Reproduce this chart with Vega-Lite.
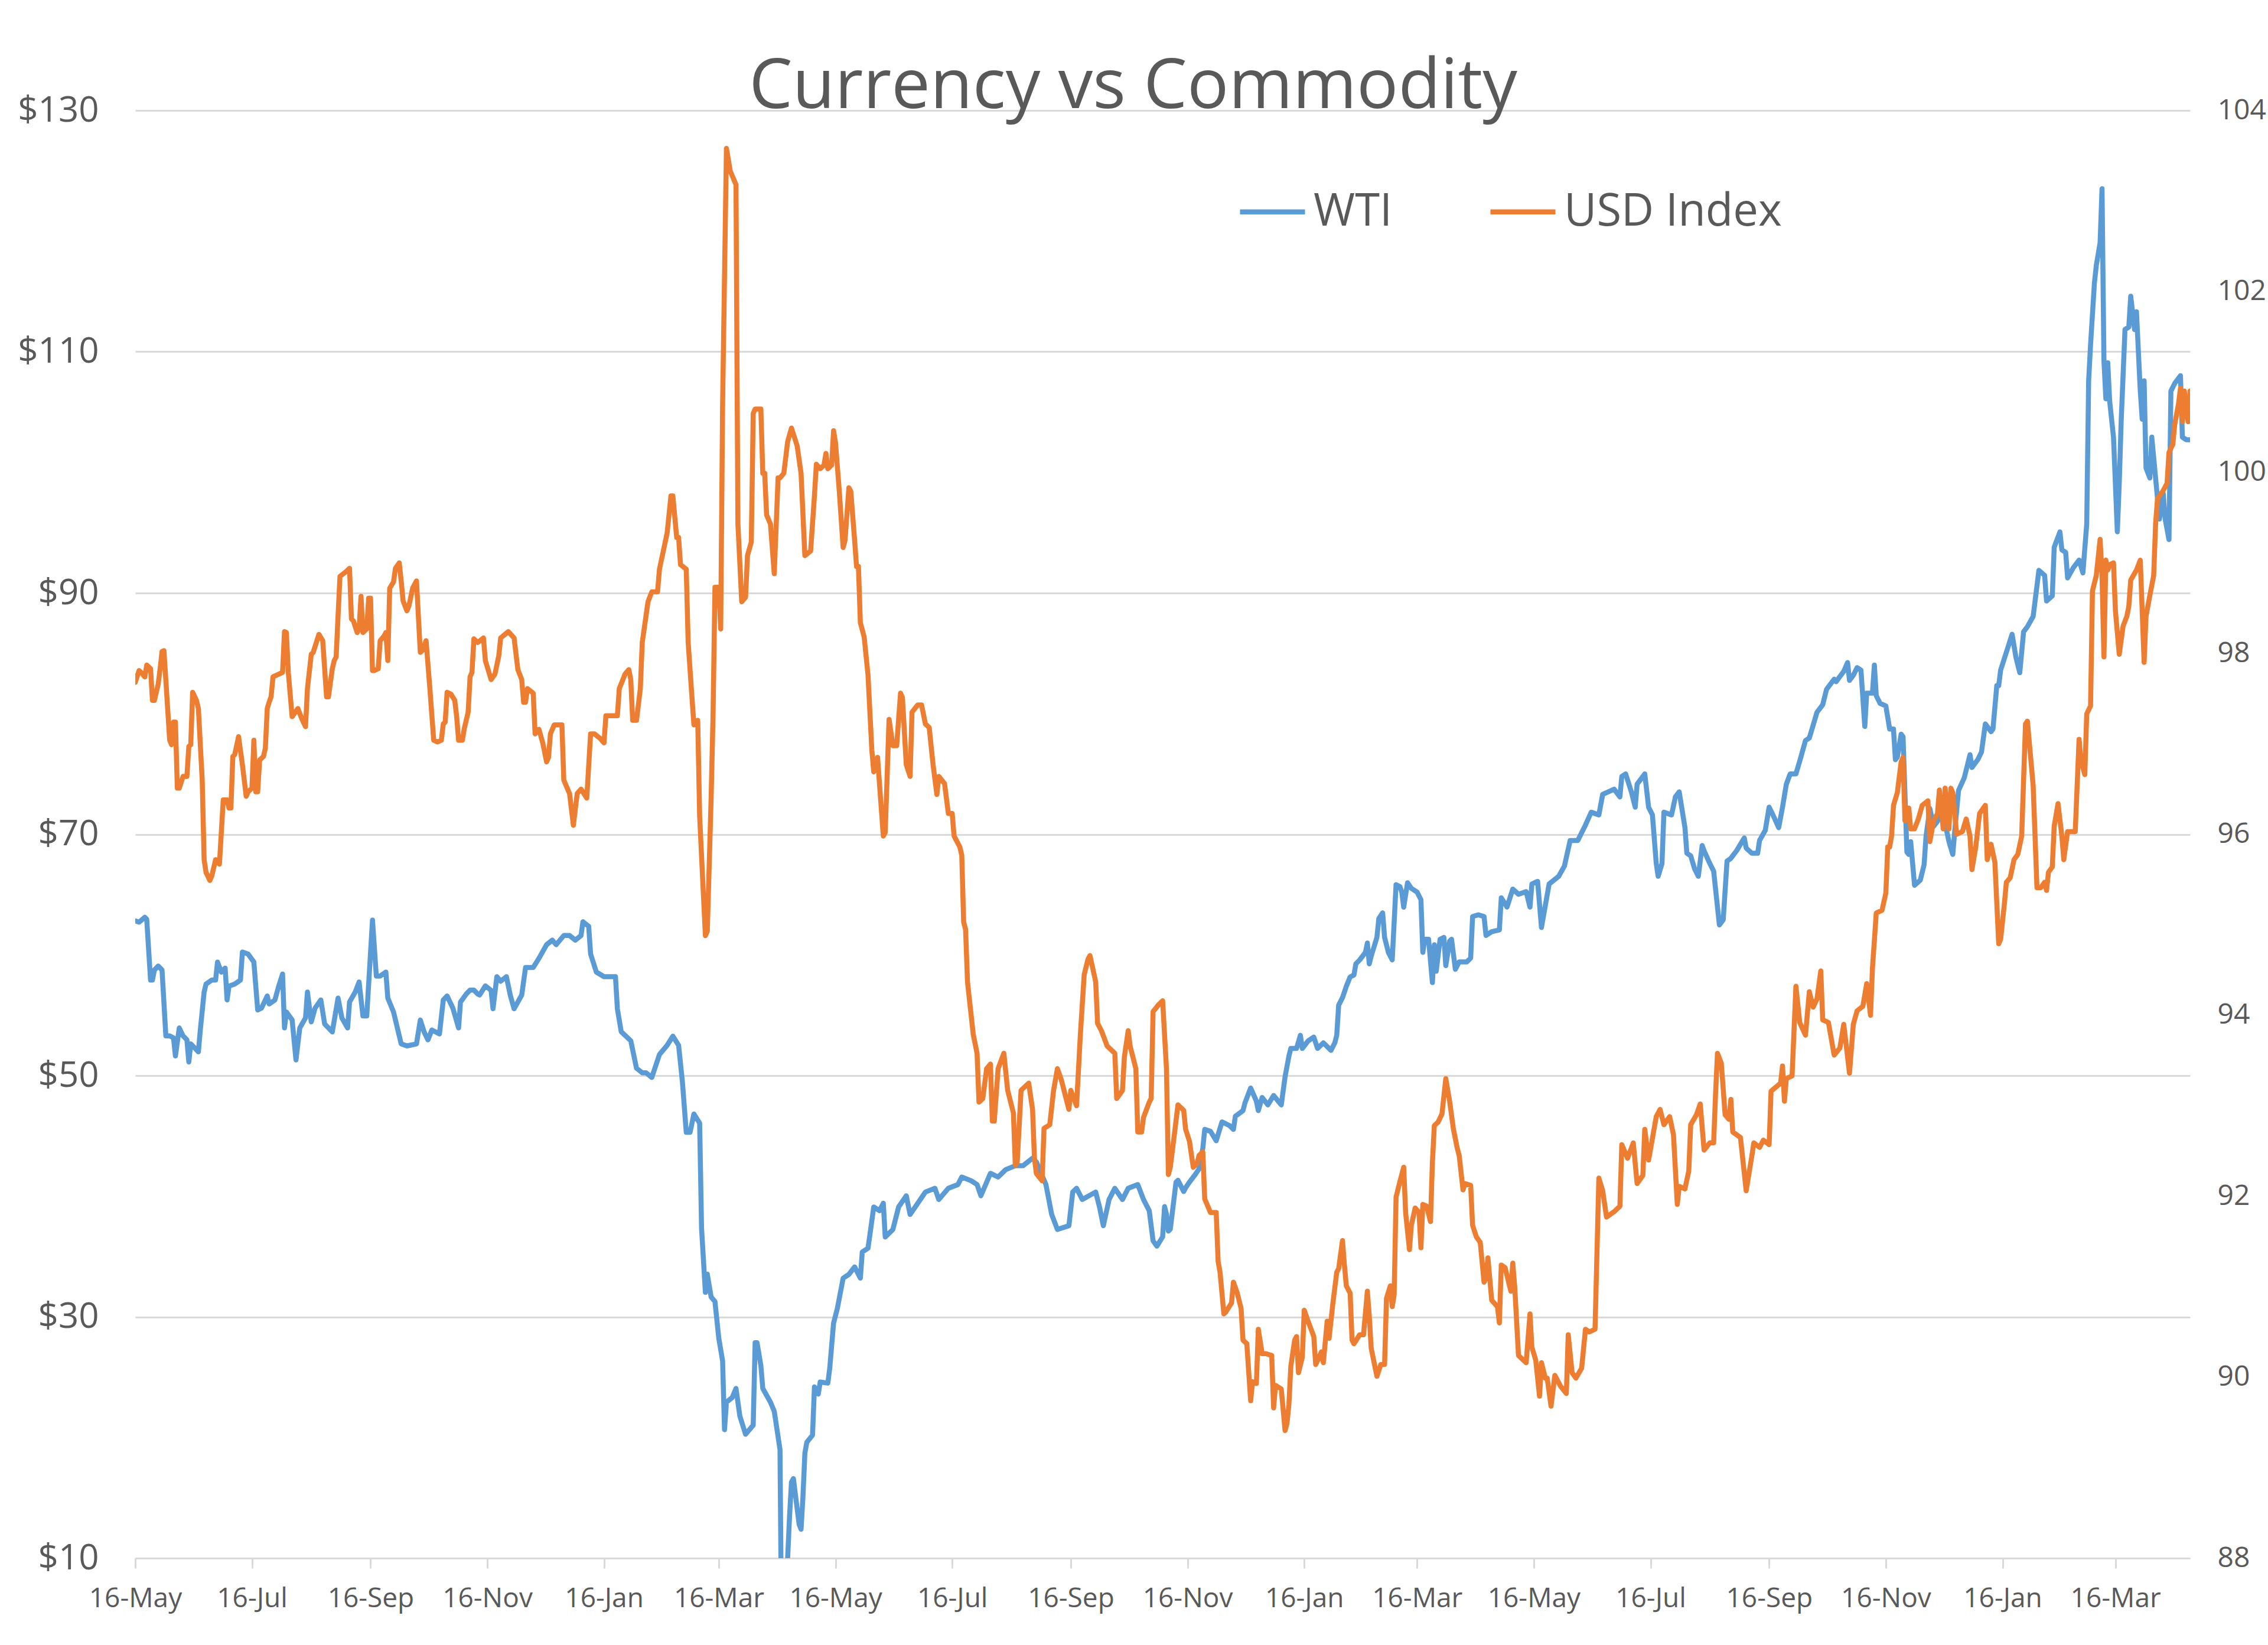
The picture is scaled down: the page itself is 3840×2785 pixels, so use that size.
{
"$schema":"https://vega.github.io/schema/vega-lite/v6.json",
"width":3479,"height":2451,
"autosize":{"type":"none"},
"padding":{"left":229,"top":187,"right":132,"bottom":147},
"background":"white",
"title":{"text":"Currency vs Commodity","font":"Open Sans","fontSize":117,"fontWeight":"normal","color":"#595959","anchor":"middle","frame":"group","baseline":"alphabetic","offset":-20,"dx":-50,"dy":123},
"datasets":{
"wti":[
{"d":"2019-05-16","v":62.82},{"d":"2019-05-18","v":62.72},{"d":"2019-05-21","v":63.12},{"d":"2019-05-22","v":62.95},{"d":"2019-05-24","v":57.92},{"d":"2019-05-25","v":57.92},{"d":"2019-05-26","v":58.75},{"d":"2019-05-28","v":59.08},{"d":"2019-05-30","v":58.75},{"d":"2019-06-01","v":53.29},{"d":"2019-06-03","v":53.29},{"d":"2019-06-05","v":53.12},{"d":"2019-06-06","v":51.63},{"d":"2019-06-08","v":53.95},{"d":"2019-06-10","v":53.29},{"d":"2019-06-12","v":52.96},{"d":"2019-06-13","v":51.13},{"d":"2019-06-14","v":52.63},{"d":"2019-06-16","v":52.3},{"d":"2019-06-18","v":51.97},{"d":"2019-06-19","v":53.78},{"d":"2019-06-21","v":56.93},{"d":"2019-06-22","v":57.59},{"d":"2019-06-25","v":57.92},{"d":"2019-06-27","v":57.92},{"d":"2019-06-28","v":59.41},{"d":"2019-06-30","v":58.58},{"d":"2019-07-02","v":58.91},{"d":"2019-07-03","v":56.27},{"d":"2019-07-04","v":57.42},{"d":"2019-07-07","v":57.59},{"d":"2019-07-10","v":57.92},{"d":"2019-07-11","v":60.24},{"d":"2019-07-14","v":60.07},{"d":"2019-07-17","v":59.41},{"d":"2019-07-19","v":55.44},{"d":"2019-07-21","v":55.6},{"d":"2019-07-24","v":56.6},{"d":"2019-07-25","v":55.94},{"d":"2019-07-28","v":56.27},{"d":"2019-07-30","v":57.42},{"d":"2019-08-01","v":58.42},{"d":"2019-08-02","v":53.95},{"d":"2019-08-03","v":55.27},{"d":"2019-08-06","v":54.61},{"d":"2019-08-08","v":51.3},{"d":"2019-08-10","v":53.95},{"d":"2019-08-13","v":54.78},{"d":"2019-08-14","v":56.93},{"d":"2019-08-16","v":54.45},{"d":"2019-08-18","v":55.6},{"d":"2019-08-21","v":56.27},{"d":"2019-08-23","v":54.28},{"d":"2019-08-27","v":53.62},{"d":"2019-08-30","v":56.43},{"d":"2019-09-01","v":54.78},{"d":"2019-09-04","v":53.95},{"d":"2019-09-05","v":56.1},{"d":"2019-09-08","v":56.93},{"d":"2019-09-10","v":57.76},{"d":"2019-09-12","v":54.94},{"d":"2019-09-14","v":54.94},{"d":"2019-09-17","v":62.89},{"d":"2019-09-19","v":58.25},{"d":"2019-09-21","v":58.25},{"d":"2019-09-24","v":58.58},{"d":"2019-09-25","v":56.43},{"d":"2019-09-28","v":55.27},{"d":"2019-10-02","v":52.63},{"d":"2019-10-05","v":52.46},{"d":"2019-10-10","v":52.63},{"d":"2019-10-12","v":54.61},{"d":"2019-10-14","v":53.62},{"d":"2019-10-16","v":52.96},{"d":"2019-10-18","v":53.78},{"d":"2019-10-22","v":53.45},{"d":"2019-10-24","v":56.27},{"d":"2019-10-26","v":56.6},{"d":"2019-10-29","v":55.6},{"d":"2019-11-01","v":53.95},{"d":"2019-11-02","v":56.1},{"d":"2019-11-05","v":56.76},{"d":"2019-11-07","v":57.09},{"d":"2019-11-09","v":57.09},{"d":"2019-11-11","v":56.76},
{"d":"2019-11-12","v":56.68},{"d":"2019-11-15","v":57.44},{"d":"2019-11-18","v":57.06},{"d":"2019-11-19","v":55.54},{"d":"2019-11-21","v":58.2},{"d":"2019-11-23","v":57.82},{"d":"2019-11-26","v":58.2},{"d":"2019-11-28","v":56.68},{"d":"2019-11-30","v":55.54},{"d":"2019-12-04","v":56.68},{"d":"2019-12-06","v":58.96},{"d":"2019-12-10","v":58.96},{"d":"2019-12-13","v":59.72},{"d":"2019-12-17","v":60.85},{"d":"2019-12-20","v":61.23},{"d":"2019-12-22","v":60.85},{"d":"2019-12-26","v":61.61},{"d":"2019-12-29","v":61.61},{"d":"2020-01-01","v":61.23},{"d":"2020-01-04","v":61.61},{"d":"2020-01-05","v":62.75},{"d":"2020-01-08","v":62.37},{"d":"2020-01-09","v":60.09},{"d":"2020-01-12","v":58.58},{"d":"2020-01-16","v":58.2},{"d":"2020-01-22","v":58.2},{"d":"2020-01-23","v":55.54},{"d":"2020-01-25","v":53.64},{"d":"2020-01-30","v":52.89},{"d":"2020-02-02","v":50.61},{"d":"2020-02-05","v":50.23},{"d":"2020-02-07","v":50.23},{"d":"2020-02-10","v":49.85},{"d":"2020-02-14","v":51.75},{"d":"2020-02-18","v":52.51},{"d":"2020-02-21","v":53.27},{"d":"2020-02-24","v":52.51},{"d":"2020-02-26","v":49.47},{"d":"2020-02-28","v":45.3},{"d":"2020-03-01","v":45.3},{"d":"2020-03-03","v":46.82},{"d":"2020-03-06","v":46.06},{"d":"2020-03-07","v":37.34},{"d":"2020-03-09","v":32.03},{"d":"2020-03-10","v":33.54},{"d":"2020-03-12","v":31.65},{"d":"2020-03-14","v":31.27},{"d":"2020-03-16","v":28.24},{"d":"2020-03-18","v":26.34},{"d":"2020-03-19","v":20.65},{"d":"2020-03-20","v":22.93},{"d":"2020-03-23","v":23.31},{"d":"2020-03-25","v":24.07},{"d":"2020-03-27","v":21.79},{"d":"2020-03-30","v":20.27},{"d":"2020-04-03","v":21.03},{"d":"2020-04-04","v":27.86},{"d":"2020-04-05","v":27.86},{"d":"2020-04-07","v":25.96},{"d":"2020-04-08","v":24.07},{"d":"2020-04-12","v":22.93},{"d":"2020-04-14","v":22.17},{"d":"2020-04-17","v":19.0},{"d":"2020-04-20","v":-37.6},{"d":"2020-04-21","v":10.0},{"d":"2020-04-22","v":13.5},{"d":"2020-04-23","v":16.3},{"d":"2020-04-24","v":16.6},{"d":"2020-04-27","v":12.8},{"d":"2020-04-28","v":12.4},{"d":"2020-04-29","v":15.1},{"d":"2020-04-30","v":18.7},{"d":"2020-05-01","v":19.6},{"d":"2020-05-04","v":20.2},{"d":"2020-05-05","v":24.2},{"d":"2020-05-06","v":23.8},{"d":"2020-05-07","v":23.6},{"d":"2020-05-08","v":24.6},
{"d":"2020-05-12","v":24.51},{"d":"2020-05-13","v":25.75},{"d":"2020-05-15","v":29.48},{"d":"2020-05-17","v":30.72},{"d":"2020-05-20","v":33.21},{"d":"2020-05-23","v":33.52},{"d":"2020-05-26","v":34.14},{"d":"2020-05-29","v":33.21},{"d":"2020-05-30","v":35.38},{"d":"2020-06-02","v":35.69},{"d":"2020-06-05","v":39.11},{"d":"2020-06-08","v":38.8},{"d":"2020-06-10","v":39.42},{"d":"2020-06-11","v":36.62},{"d":"2020-06-15","v":37.25},{"d":"2020-06-18","v":39.11},{"d":"2020-06-22","v":40.04},{"d":"2020-06-24","v":38.49},{"d":"2020-06-28","v":39.42},{"d":"2020-07-02","v":40.35},{"d":"2020-07-07","v":40.66},{"d":"2020-07-09","v":39.73},{"d":"2020-07-14","v":40.66},{"d":"2020-07-19","v":40.97},{"d":"2020-07-21","v":41.59},{"d":"2020-07-26","v":41.28},{"d":"2020-07-29","v":40.97},{"d":"2020-07-31","v":40.04},{"d":"2020-08-05","v":41.9},{"d":"2020-08-09","v":41.59},{"d":"2020-08-13","v":42.21},{"d":"2020-08-18","v":42.53},{"d":"2020-08-22","v":42.53},{"d":"2020-08-27","v":43.15},{"d":"2020-08-29","v":42.84},{"d":"2020-09-03","v":40.97},{"d":"2020-09-06","v":38.49},{"d":"2020-09-09","v":37.25},{"d":"2020-09-15","v":37.56},{"d":"2020-09-17","v":40.35},{"d":"2020-09-19","v":40.66},{"d":"2020-09-22","v":39.73},{"d":"2020-09-29","v":40.35},{"d":"2020-10-01","v":39.11},{"d":"2020-10-03","v":37.56},{"d":"2020-10-06","v":39.73},{"d":"2020-10-09","v":40.66},{"d":"2020-10-13","v":39.73},{"d":"2020-10-16","v":40.66},{"d":"2020-10-21","v":40.97},{"d":"2020-10-24","v":39.73},{"d":"2020-10-27","v":38.8},{"d":"2020-10-29","v":36.31},
{"d":"2020-10-31","v":35.86},{"d":"2020-11-03","v":36.64},{"d":"2020-11-04","v":39.14},{"d":"2020-11-05","v":38.51},{"d":"2020-11-06","v":37.11},{"d":"2020-11-07","v":37.27},{"d":"2020-11-10","v":41.17},{"d":"2020-11-11","v":41.32},{"d":"2020-11-14","v":40.39},{"d":"2020-11-15","v":40.7},{"d":"2020-11-17","v":41.17},{"d":"2020-11-20","v":41.79},{"d":"2020-11-22","v":42.26},{"d":"2020-11-24","v":43.98},{"d":"2020-11-25","v":45.54},{"d":"2020-11-28","v":45.38},{"d":"2020-12-01","v":44.6},{"d":"2020-12-04","v":46.16},{"d":"2020-12-08","v":45.85},{"d":"2020-12-10","v":45.54},{"d":"2020-12-11","v":46.63},{"d":"2020-12-15","v":47.1},{"d":"2020-12-16","v":47.72},{"d":"2020-12-19","v":48.97},{"d":"2020-12-22","v":47.88},{"d":"2020-12-23","v":47.1},{"d":"2020-12-25","v":48.19},{"d":"2020-12-28","v":47.57},{"d":"2020-12-31","v":48.35},{"d":"2021-01-04","v":47.57},{"d":"2021-01-06","v":49.91},{"d":"2021-01-08","v":51.62},{"d":"2021-01-09","v":52.25},{"d":"2021-01-12","v":52.25},{"d":"2021-01-14","v":53.34},{"d":"2021-01-15","v":52.25},{"d":"2021-01-18","v":52.87},{"d":"2021-01-21","v":53.19},{"d":"2021-01-23","v":52.25},{"d":"2021-01-26","v":52.72},{"d":"2021-01-30","v":52.09},{"d":"2021-02-01","v":52.72},{"d":"2021-02-02","v":53.34},{"d":"2021-02-03","v":55.84},{"d":"2021-02-05","v":56.46},{"d":"2021-02-07","v":57.4},{"d":"2021-02-09","v":58.18},{"d":"2021-02-11","v":58.34},{"d":"2021-02-12","v":59.27},{"d":"2021-02-14","v":59.59},{"d":"2021-02-17","v":60.21},{"d":"2021-02-18","v":60.99},{"d":"2021-02-19","v":59.27},{"d":"2021-02-20","v":59.9},{"d":"2021-02-23","v":61.46},{"d":"2021-02-24","v":63.02},{"d":"2021-02-26","v":63.49},{"d":"2021-02-27","v":61.46},{"d":"2021-03-01","v":60.21},{"d":"2021-03-03","v":59.59},{"d":"2021-03-05","v":65.83},{"d":"2021-03-07","v":65.67},{"d":"2021-03-08","v":65.21},{"d":"2021-03-09","v":63.96},{"d":"2021-03-11","v":65.99},{"d":"2021-03-13","v":65.52},{"d":"2021-03-16","v":65.21},{"d":"2021-03-18","v":64.58},{"d":"2021-03-19","v":60.21},{"d":"2021-03-20","v":61.3},{"d":"2021-03-22","v":61.3},{"d":"2021-03-24","v":57.71},{"d":"2021-03-25","v":60.84},{"d":"2021-03-26","v":58.65},{"d":"2021-03-28","v":61.3},{"d":"2021-03-30","v":61.46},{"d":"2021-03-31","v":59.12},{"d":"2021-04-02","v":61.15},{"d":"2021-04-03","v":61.3},{"d":"2021-04-05","v":58.81},{"d":"2021-04-07","v":59.43},{"d":"2021-04-11","v":59.43},{"d":"2021-04-13","v":59.74},{"d":"2021-04-14","v":63.18},{"d":"2021-04-17","v":63.33},{"d":"2021-04-20","v":63.18},{"d":"2021-04-21","v":61.62},{"d":"2021-04-24","v":61.93},{"d":"2021-04-28","v":62.08},{"d":"2021-04-29","v":64.74},
{"d":"2021-05-02","v":63.97},{"d":"2021-05-05","v":65.46},{"d":"2021-05-08","v":65.03},{"d":"2021-05-12","v":65.25},{"d":"2021-05-14","v":63.97},{"d":"2021-05-15","v":65.88},{"d":"2021-05-18","v":66.1},{"d":"2021-05-20","v":62.28},{"d":"2021-05-24","v":65.88},{"d":"2021-05-29","v":66.52},{"d":"2021-06-01","v":67.37},{"d":"2021-06-04","v":69.49},{"d":"2021-06-08","v":69.49},{"d":"2021-06-12","v":70.77},{"d":"2021-06-15","v":71.83},{"d":"2021-06-19","v":71.61},{"d":"2021-06-21","v":73.31},{"d":"2021-06-27","v":73.74},{"d":"2021-06-30","v":73.1},{"d":"2021-07-01","v":74.8},{"d":"2021-07-03","v":75.01},{"d":"2021-07-06","v":73.52},{"d":"2021-07-08","v":72.25},{"d":"2021-07-09","v":74.16},{"d":"2021-07-13","v":75.01},{"d":"2021-07-15","v":72.25},{"d":"2021-07-17","v":71.61},{"d":"2021-07-19","v":67.58},{"d":"2021-07-20","v":66.52},{"d":"2021-07-22","v":67.58},{"d":"2021-07-23","v":71.83},{"d":"2021-07-27","v":71.61},{"d":"2021-07-29","v":73.1},{"d":"2021-07-31","v":73.52},{"d":"2021-08-03","v":70.55},{"d":"2021-08-04","v":68.43},{"d":"2021-08-06","v":68.22},{"d":"2021-08-08","v":67.16},{"d":"2021-08-10","v":66.52},{"d":"2021-08-12","v":69.07},{"d":"2021-08-13","v":68.64},{"d":"2021-08-16","v":67.58},{"d":"2021-08-18","v":66.95},{"d":"2021-08-21","v":62.49},{"d":"2021-08-23","v":62.91},{"d":"2021-08-25","v":67.79},{"d":"2021-08-27","v":68.01},{"d":"2021-08-30","v":68.64},{"d":"2021-09-03","v":69.7},{"d":"2021-09-04","v":68.86},{"d":"2021-09-07","v":68.43},{"d":"2021-09-10","v":68.43},{"d":"2021-09-11","v":69.49},{"d":"2021-09-14","v":70.34},{"d":"2021-09-16","v":72.25},{"d":"2021-09-18","v":71.61},{"d":"2021-09-21","v":70.55},{"d":"2021-09-23","v":72.25},{"d":"2021-09-25","v":74.16},{"d":"2021-09-27","v":75.01},{"d":"2021-09-30","v":75.01},{"d":"2021-10-02","v":76.07},{"d":"2021-10-05","v":77.77},{"d":"2021-10-07","v":77.98},{"d":"2021-10-09","v":79.04},{"d":"2021-10-11","v":80.11},{"d":"2021-10-14","v":80.74},{"d":"2021-10-16","v":82.01},{"d":"2021-10-17","v":82.23},{"d":"2021-10-20","v":82.86},{"d":"2021-10-21","v":82.65},{"d":"2021-10-23","v":83.08},{"d":"2021-10-25","v":83.5},
{"d":"2021-10-27","v":84.24},{"d":"2021-10-28","v":82.76},{"d":"2021-10-30","v":83.18},{"d":"2021-11-01","v":83.82},{"d":"2021-11-03","v":83.61},{"d":"2021-11-05","v":78.94},{"d":"2021-11-06","v":81.7},{"d":"2021-11-09","v":81.7},{"d":"2021-11-10","v":84.03},{"d":"2021-11-11","v":81.49},{"d":"2021-11-13","v":80.85},{"d":"2021-11-16","v":80.64},{"d":"2021-11-18","v":78.73},{"d":"2021-11-20","v":78.73},{"d":"2021-11-21","v":76.18},{"d":"2021-11-22","v":76.39},{"d":"2021-11-24","v":78.3},{"d":"2021-11-25","v":78.09},{"d":"2021-11-27","v":68.54},{"d":"2021-11-28","v":68.33},{"d":"2021-11-29","v":69.39},{"d":"2021-12-01","v":65.78},{"d":"2021-12-04","v":66.2},{"d":"2021-12-06","v":67.48},{"d":"2021-12-07","v":69.81},{"d":"2021-12-09","v":72.14},{"d":"2021-12-11","v":70.66},{"d":"2021-12-13","v":71.08},{"d":"2021-12-15","v":71.72},{"d":"2021-12-17","v":70.87},{"d":"2021-12-19","v":69.39},{"d":"2021-12-21","v":68.33},{"d":"2021-12-22","v":70.24},{"d":"2021-12-24","v":73.63},{"d":"2021-12-27","v":74.69},{"d":"2021-12-30","v":76.6},{"d":"2021-12-31","v":75.54},{"d":"2022-01-03","v":76.18},{"d":"2022-01-05","v":76.82},{"d":"2022-01-07","v":79.15},{"d":"2022-01-10","v":78.51},{"d":"2022-01-11","v":78.73},{"d":"2022-01-13","v":82.33},{"d":"2022-01-14","v":82.33},{"d":"2022-01-15","v":83.61},{"d":"2022-01-18","v":85.09},{"d":"2022-01-21","v":86.58},{"d":"2022-01-23","v":84.67},{"d":"2022-01-25","v":83.4},{"d":"2022-01-27","v":86.79},{"d":"2022-01-29","v":87.21},{"d":"2022-02-01","v":88.06},{"d":"2022-02-04","v":91.88},{"d":"2022-02-07","v":91.46},{"d":"2022-02-08","v":89.34},{"d":"2022-02-11","v":89.76},{"d":"2022-02-12","v":93.79},{"d":"2022-02-15","v":95.07},{"d":"2022-02-16","v":93.58},{"d":"2022-02-18","v":93.37},{"d":"2022-02-19","v":91.25},{"d":"2022-02-22","v":92.1},{"d":"2022-02-25","v":92.73},{"d":"2022-02-27","v":91.67},{"d":"2022-03-01","v":95.71},{"d":"2022-03-02","v":107.59},{"d":"2022-03-03","v":110.56},{"d":"2022-03-05","v":115.66},{"d":"2022-03-06","v":117.14},{"d":"2022-03-08","v":119.05},{"d":"2022-03-09","v":123.51},{"d":"2022-03-10","v":109.29},{"d":"2022-03-11","v":106.1},{"d":"2022-03-12","v":109.08},{"d":"2022-03-13","v":105.89},{"d":"2022-03-15","v":102.92},{"d":"2022-03-17","v":95.07},{"d":"2022-03-18","v":99.1},{"d":"2022-03-19","v":104.2},{"d":"2022-03-21","v":111.84},{"d":"2022-03-23","v":112.05},{"d":"2022-03-24","v":114.6},{"d":"2022-03-26","v":111.84},{"d":"2022-03-27","v":113.32},{"d":"2022-03-29","v":106.74},{"d":"2022-03-30","v":104.41},{"d":"2022-03-31","v":107.59},{"d":"2022-04-01","v":100.37},{"d":"2022-04-03","v":99.53},{"d":"2022-04-04","v":102.92},{"d":"2022-04-07","v":97.83},{"d":"2022-04-08","v":96.13},{"d":"2022-04-10","v":98.25},{"d":"2022-04-11","v":96.13},{"d":"2022-04-13","v":94.43},{"d":"2022-04-14","v":106.74},{"d":"2022-04-16","v":107.38},{"d":"2022-04-19","v":108.02},{"d":"2022-04-20","v":102.92},{"d":"2022-04-22","v":102.71},{"d":"2022-04-24","v":102.71}
],
"usd":[
{"d":"2019-05-16","v":97.68},{"d":"2019-05-18","v":97.81},{"d":"2019-05-19","v":97.79},{"d":"2019-05-21","v":97.74},{"d":"2019-05-22","v":97.87},{"d":"2019-05-24","v":97.83},{"d":"2019-05-25","v":97.48},{"d":"2019-05-26","v":97.48},{"d":"2019-05-28","v":97.66},{"d":"2019-05-29","v":97.83},{"d":"2019-05-30","v":98.02},{"d":"2019-05-31","v":98.03},{"d":"2019-06-03","v":97.04},{"d":"2019-06-04","v":96.99},{"d":"2019-06-05","v":97.24},{"d":"2019-06-06","v":97.24},{"d":"2019-06-07","v":96.51},{"d":"2019-06-08","v":96.51},{"d":"2019-06-10","v":96.64},{"d":"2019-06-12","v":96.64},{"d":"2019-06-13","v":96.97},{"d":"2019-06-14","v":96.99},{"d":"2019-06-15","v":97.57},{"d":"2019-06-17","v":97.48},{"d":"2019-06-18","v":97.39},{"d":"2019-06-20","v":96.6},{"d":"2019-06-21","v":95.72},{"d":"2019-06-22","v":95.58},{"d":"2019-06-24","v":95.49},{"d":"2019-06-25","v":95.54},{"d":"2019-06-27","v":95.72},{"d":"2019-06-29","v":95.67},{"d":"2019-07-01","v":96.38},{"d":"2019-07-03","v":96.38},{"d":"2019-07-04","v":96.29},{"d":"2019-07-05","v":96.29},{"d":"2019-07-06","v":96.86},{"d":"2019-07-07","v":96.88},{"d":"2019-07-09","v":97.08},{"d":"2019-07-11","v":96.77},{"d":"2019-07-13","v":96.42},{"d":"2019-07-14","v":96.47},{"d":"2019-07-16","v":96.51},{"d":"2019-07-17","v":97.04},{"d":"2019-07-18","v":96.47},{"d":"2019-07-19","v":96.47},{"d":"2019-07-20","v":96.82},{"d":"2019-07-22","v":96.86},{"d":"2019-07-23","v":96.95},{"d":"2019-07-24","v":97.39},{"d":"2019-07-25","v":97.46},{"d":"2019-07-26","v":97.52},{"d":"2019-07-27","v":97.74},{"d":"2019-07-30","v":97.77},{"d":"2019-08-01","v":97.79},{"d":"2019-08-02","v":98.24},{"d":"2019-08-03","v":98.23},{"d":"2019-08-04","v":97.79},{"d":"2019-08-06","v":97.3},{"d":"2019-08-09","v":97.39},{"d":"2019-08-11","v":97.28},{"d":"2019-08-13","v":97.19},{"d":"2019-08-14","v":97.61},{"d":"2019-08-16","v":97.99},{"d":"2019-08-17","v":98.01},{"d":"2019-08-20","v":98.21},{"d":"2019-08-22","v":98.14},{"d":"2019-08-24","v":97.52},{"d":"2019-08-25","v":97.52},{"d":"2019-08-27","v":97.83},{"d":"2019-08-28","v":97.92},{"d":"2019-08-29","v":97.96},{"d":"2019-08-30","v":98.41},{"d":"2019-08-31","v":98.85},{"d":"2019-09-03","v":98.9},{"d":"2019-09-05","v":98.94},{"d":"2019-09-06","v":98.38},{"d":"2019-09-07","v":98.36},{"d":"2019-09-09","v":98.23},{"d":"2019-09-10","v":98.27},{"d":"2019-09-11","v":98.63},{"d":"2019-09-12","v":98.23},{"d":"2019-09-14","v":98.27},{"d":"2019-09-15","v":98.61},{"d":"2019-09-16","v":98.61},{"d":"2019-09-17","v":97.81},{"d":"2019-09-18","v":97.81},{"d":"2019-09-20","v":97.83},{"d":"2019-09-21","v":98.14},{"d":"2019-09-23","v":98.19},{"d":"2019-09-24","v":98.23},{"d":"2019-09-25","v":97.92},{"d":"2019-09-26","v":98.72},{"d":"2019-09-28","v":98.79},{"d":"2019-09-29","v":98.94},{"d":"2019-10-01","v":99.0},{"d":"2019-10-02","v":98.8},{"d":"2019-10-03","v":98.58},{"d":"2019-10-05","v":98.47},{"d":"2019-10-06","v":98.52},{"d":"2019-10-08","v":98.72},{"d":"2019-10-10","v":98.8},{"d":"2019-10-12","v":98.01},{"d":"2019-10-13","v":98.03},{"d":"2019-10-15","v":98.14},{"d":"2019-10-17","v":97.61},{"d":"2019-10-19","v":97.04},{"d":"2019-10-21","v":97.02},{"d":"2019-10-23","v":97.04},{"d":"2019-10-24","v":97.22},{"d":"2019-10-25","v":97.24},{"d":"2019-10-26","v":97.57},{"d":"2019-10-28","v":97.55},{"d":"2019-10-30","v":97.48},{"d":"2019-10-31","v":97.3},{"d":"2019-11-01","v":97.04},{"d":"2019-11-03","v":97.04},{"d":"2019-11-04","v":97.17},{"d":"2019-11-06","v":97.35},{"d":"2019-11-07","v":97.74},{"d":"2019-11-08","v":97.79},{"d":"2019-11-09","v":98.16},{"d":"2019-11-11","v":98.12},
{"d":"2019-11-14","v":98.17},{"d":"2019-11-15","v":97.92},{"d":"2019-11-18","v":97.71},{"d":"2019-11-20","v":97.77},{"d":"2019-11-22","v":97.97},{"d":"2019-11-23","v":98.17},{"d":"2019-11-27","v":98.24},{"d":"2019-11-30","v":98.17},{"d":"2019-12-02","v":97.82},{"d":"2019-12-04","v":97.71},{"d":"2019-12-05","v":97.46},{"d":"2019-12-06","v":97.46},{"d":"2019-12-07","v":97.61},{"d":"2019-12-10","v":97.56},{"d":"2019-12-11","v":97.11},{"d":"2019-12-13","v":97.16},{"d":"2019-12-15","v":97.01},{"d":"2019-12-17","v":96.8},{"d":"2019-12-18","v":96.85},{"d":"2019-12-19","v":97.11},{"d":"2019-12-21","v":97.21},{"d":"2019-12-25","v":97.21},{"d":"2019-12-26","v":96.6},{"d":"2019-12-29","v":96.45},{"d":"2019-12-31","v":96.1},{"d":"2020-01-02","v":96.45},{"d":"2020-01-04","v":96.5},{"d":"2020-01-07","v":96.4},{"d":"2020-01-09","v":97.11},{"d":"2020-01-11","v":97.11},{"d":"2020-01-14","v":97.06},{"d":"2020-01-16","v":97.01},{"d":"2020-01-17","v":97.31},{"d":"2020-01-20","v":97.31},{"d":"2020-01-23","v":97.31},{"d":"2020-01-24","v":97.61},{"d":"2020-01-27","v":97.77},{"d":"2020-01-29","v":97.82},{"d":"2020-01-30","v":97.71},{"d":"2020-01-31","v":97.26},{"d":"2020-02-02","v":97.26},{"d":"2020-02-04","v":97.61},{"d":"2020-02-05","v":98.12},{"d":"2020-02-08","v":98.57},{"d":"2020-02-10","v":98.68},{"d":"2020-02-13","v":98.68},{"d":"2020-02-14","v":98.93},{"d":"2020-02-16","v":99.13},{"d":"2020-02-18","v":99.33},{"d":"2020-02-20","v":99.74},{"d":"2020-02-21","v":99.74},{"d":"2020-02-23","v":99.28},{"d":"2020-02-24","v":99.28},{"d":"2020-02-25","v":98.98},{"d":"2020-02-28","v":98.93},{"d":"2020-02-29","v":98.12},{"d":"2020-03-02","v":97.51},{"d":"2020-03-03","v":97.21},{"d":"2020-03-05","v":97.26},{"d":"2020-03-06","v":96.2},{"d":"2020-03-09","v":94.88},{"d":"2020-03-10","v":94.93},{"d":"2020-03-12","v":96.4},{"d":"2020-03-13","v":97.31},{"d":"2020-03-14","v":98.73},{"d":"2020-03-16","v":98.73},{"d":"2020-03-17","v":98.27},{"d":"2020-03-18","v":100.75},{"d":"2020-03-20","v":103.58},{"d":"2020-03-22","v":103.33},{"d":"2020-03-25","v":103.18},{"d":"2020-03-26","v":99.43},{"d":"2020-03-28","v":98.57},{"d":"2020-03-30","v":98.62},{"d":"2020-03-31","v":99.08},{"d":"2020-04-02","v":99.23},{"d":"2020-04-03","v":100.65},{"d":"2020-04-04","v":100.7},{"d":"2020-04-07","v":100.7},{"d":"2020-04-08","v":99.99},{"d":"2020-04-09","v":99.99},{"d":"2020-04-10","v":99.53},{"d":"2020-04-12","v":99.43},{"d":"2020-04-14","v":98.88},{"d":"2020-04-16","v":99.94},{"d":"2020-04-17","v":99.94},{"d":"2020-04-19","v":99.99},{"d":"2020-04-21","v":100.34},{"d":"2020-04-23","v":100.49},{"d":"2020-04-26","v":100.29},{"d":"2020-04-28","v":99.99},{"d":"2020-04-30","v":99.08},{"d":"2020-05-03","v":99.13},{"d":"2020-05-05","v":99.74},{"d":"2020-05-06","v":100.09},{"d":"2020-05-08","v":100.04},
{"d":"2020-05-10","v":100.08},{"d":"2020-05-11","v":100.21},{"d":"2020-05-12","v":100.04},{"d":"2020-05-14","v":100.08},{"d":"2020-05-15","v":100.46},{"d":"2020-05-16","v":100.33},{"d":"2020-05-18","v":99.79},{"d":"2020-05-20","v":99.17},{"d":"2020-05-21","v":99.25},{"d":"2020-05-23","v":99.83},{"d":"2020-05-24","v":99.79},{"d":"2020-05-26","v":99.25},{"d":"2020-05-27","v":98.96},{"d":"2020-05-28","v":98.96},{"d":"2020-05-29","v":98.34},{"d":"2020-05-31","v":98.18},{"d":"2020-06-02","v":97.76},{"d":"2020-06-04","v":96.93},{"d":"2020-06-05","v":96.69},{"d":"2020-06-07","v":96.85},{"d":"2020-06-08","v":96.56},{"d":"2020-06-10","v":95.98},{"d":"2020-06-11","v":96.02},{"d":"2020-06-13","v":97.27},{"d":"2020-06-15","v":96.98},{"d":"2020-06-17","v":96.98},{"d":"2020-06-19","v":97.56},{"d":"2020-06-20","v":97.51},{"d":"2020-06-22","v":96.77},{"d":"2020-06-24","v":96.64},{"d":"2020-06-25","v":97.35},{"d":"2020-06-28","v":97.43},{"d":"2020-06-30","v":97.43},{"d":"2020-07-02","v":97.22},{"d":"2020-07-04","v":97.18},{"d":"2020-07-06","v":96.77},{"d":"2020-07-08","v":96.44},{"d":"2020-07-09","v":96.64},{"d":"2020-07-12","v":96.56},{"d":"2020-07-14","v":96.23},{"d":"2020-07-16","v":96.23},{"d":"2020-07-17","v":95.98},{"d":"2020-07-20","v":95.86},{"d":"2020-07-21","v":95.77},{"d":"2020-07-22","v":95.03},{"d":"2020-07-23","v":94.95},{"d":"2020-07-24","v":94.37},{"d":"2020-07-27","v":93.79},{"d":"2020-07-29","v":93.58},{"d":"2020-07-30","v":93.04},{"d":"2020-08-01","v":93.08},{"d":"2020-08-03","v":93.41},{"d":"2020-08-05","v":93.46},{"d":"2020-08-06","v":92.83},{"d":"2020-08-07","v":92.83},{"d":"2020-08-09","v":93.41},{"d":"2020-08-12","v":93.58},{"d":"2020-08-14","v":93.17},{"d":"2020-08-17","v":92.92},{"d":"2020-08-18","v":92.34},{"d":"2020-08-19","v":92.38},{"d":"2020-08-21","v":93.17},{"d":"2020-08-25","v":93.25},{"d":"2020-08-27","v":92.96},{"d":"2020-08-28","v":92.42},{"d":"2020-08-29","v":92.25},{"d":"2020-09-01","v":92.17},{"d":"2020-09-02","v":92.75},{"d":"2020-09-05","v":92.79},{"d":"2020-09-07","v":93.17},{"d":"2020-09-09","v":93.41},{"d":"2020-09-11","v":93.29},{"d":"2020-09-15","v":92.96},{"d":"2020-09-16","v":93.17},{"d":"2020-09-19","v":93.0},{"d":"2020-09-21","v":93.79},{"d":"2020-09-23","v":94.45},{"d":"2020-09-25","v":94.62},{"d":"2020-09-26","v":94.66},{"d":"2020-09-29","v":94.37},{"d":"2020-09-30","v":93.91},{"d":"2020-10-02","v":93.83},{"d":"2020-10-05","v":93.66},{"d":"2020-10-07","v":93.62},{"d":"2020-10-09","v":93.58},{"d":"2020-10-10","v":93.08},{"d":"2020-10-13","v":93.17},{"d":"2020-10-14","v":93.54},{"d":"2020-10-16","v":93.83},{"d":"2020-10-17","v":93.66},{"d":"2020-10-20","v":93.41},{"d":"2020-10-21","v":92.71},{"d":"2020-10-23","v":92.71},{"d":"2020-10-24","v":92.87},{"d":"2020-10-27","v":93.04},{"d":"2020-10-28","v":93.08},{"d":"2020-10-29","v":94.04},{"d":"2020-11-01","v":94.12},{"d":"2020-11-03","v":94.16},
{"d":"2020-11-05","v":93.41},{"d":"2020-11-06","v":92.24},{"d":"2020-11-07","v":92.32},{"d":"2020-11-09","v":92.66},{"d":"2020-11-11","v":93.01},{"d":"2020-11-14","v":92.95},{"d":"2020-11-15","v":92.74},{"d":"2020-11-17","v":92.61},{"d":"2020-11-19","v":92.32},{"d":"2020-11-21","v":92.36},{"d":"2020-11-22","v":92.45},{"d":"2020-11-24","v":92.49},{"d":"2020-11-25","v":91.97},{"d":"2020-11-28","v":91.82},{"d":"2020-12-01","v":91.82},{"d":"2020-12-02","v":91.28},{"d":"2020-12-03","v":91.16},{"d":"2020-12-05","v":90.7},{"d":"2020-12-06","v":90.72},{"d":"2020-12-09","v":90.82},{"d":"2020-12-10","v":91.05},{"d":"2020-12-12","v":90.93},{"d":"2020-12-14","v":90.76},{"d":"2020-12-15","v":90.41},{"d":"2020-12-17","v":90.37},{"d":"2020-12-19","v":89.74},{"d":"2020-12-20","v":89.95},{"d":"2020-12-22","v":89.93},{"d":"2020-12-23","v":90.53},{"d":"2020-12-25","v":90.26},{"d":"2020-12-27","v":90.26},{"d":"2020-12-30","v":90.24},{"d":"2020-12-31","v":89.66},{"d":"2021-01-01","v":89.91},{"d":"2021-01-04","v":89.87},{"d":"2021-01-06","v":89.41},{"d":"2021-01-07","v":89.49},{"d":"2021-01-08","v":89.7},{"d":"2021-01-09","v":90.12},{"d":"2021-01-11","v":90.41},{"d":"2021-01-12","v":90.45},{"d":"2021-01-13","v":90.05},{"d":"2021-01-15","v":90.22},{"d":"2021-01-16","v":90.74},{"d":"2021-01-18","v":90.62},{"d":"2021-01-21","v":90.45},{"d":"2021-01-22","v":90.14},{"d":"2021-01-25","v":90.28},{"d":"2021-01-26","v":90.16},{"d":"2021-01-28","v":90.62},{"d":"2021-01-29","v":90.43},{"d":"2021-01-31","v":90.82},{"d":"2021-02-02","v":91.16},{"d":"2021-02-03","v":91.2},{"d":"2021-02-05","v":91.51},{"d":"2021-02-06","v":91.24},{"d":"2021-02-07","v":91.01},{"d":"2021-02-09","v":90.93},{"d":"2021-02-10","v":90.41},{"d":"2021-02-11","v":90.37},{"d":"2021-02-14","v":90.47},{"d":"2021-02-16","v":90.47},{"d":"2021-02-18","v":90.95},{"d":"2021-02-19","v":90.68},{"d":"2021-02-20","v":90.32},{"d":"2021-02-23","v":90.01},{"d":"2021-02-25","v":90.14},{"d":"2021-02-27","v":90.14},{"d":"2021-02-28","v":90.87},{"d":"2021-03-02","v":91.01},{"d":"2021-03-03","v":90.78},{"d":"2021-03-04","v":90.91},{"d":"2021-03-05","v":91.99},{"d":"2021-03-07","v":92.16},{"d":"2021-03-09","v":92.32},{"d":"2021-03-10","v":91.82},{"d":"2021-03-12","v":91.41},{"d":"2021-03-13","v":91.68},{"d":"2021-03-15","v":91.87},{"d":"2021-03-17","v":91.82},{"d":"2021-03-18","v":91.43},{"d":"2021-03-19","v":91.91},{"d":"2021-03-21","v":91.89},{"d":"2021-03-23","v":91.72},{"d":"2021-03-24","v":92.37},{"d":"2021-03-25","v":92.78},{"d":"2021-03-27","v":92.82},{"d":"2021-03-29","v":92.91},{"d":"2021-03-31","v":93.3},{"d":"2021-04-02","v":93.05},{"d":"2021-04-04","v":92.74},{"d":"2021-04-06","v":92.53},{"d":"2021-04-07","v":92.45},{"d":"2021-04-09","v":92.07},{"d":"2021-04-10","v":92.14},{"d":"2021-04-13","v":92.12},{"d":"2021-04-14","v":91.68},{"d":"2021-04-16","v":91.55},{"d":"2021-04-18","v":91.49},{"d":"2021-04-20","v":91.05},{"d":"2021-04-21","v":91.1},{"d":"2021-04-22","v":91.32},{"d":"2021-04-24","v":90.85},{"d":"2021-04-27","v":90.78},{"d":"2021-04-28","v":90.6},
{"d":"2021-04-29","v":91.24},{"d":"2021-05-01","v":91.21},{"d":"2021-05-04","v":90.95},{"d":"2021-05-05","v":91.26},{"d":"2021-05-06","v":91.01},{"d":"2021-05-08","v":90.24},{"d":"2021-05-12","v":90.16},{"d":"2021-05-14","v":90.7},{"d":"2021-05-15","v":90.33},{"d":"2021-05-17","v":90.19},{"d":"2021-05-19","v":89.79},{"d":"2021-05-20","v":90.16},{"d":"2021-05-22","v":89.99},{"d":"2021-05-23","v":89.99},{"d":"2021-05-25","v":89.68},{"d":"2021-05-27","v":90.02},{"d":"2021-05-30","v":89.9},{"d":"2021-06-02","v":89.82},{"d":"2021-06-03","v":90.47},{"d":"2021-06-05","v":90.05},{"d":"2021-06-07","v":89.99},{"d":"2021-06-10","v":90.1},{"d":"2021-06-12","v":90.53},{"d":"2021-06-14","v":90.5},{"d":"2021-06-17","v":90.53},{"d":"2021-06-19","v":92.2},{"d":"2021-06-21","v":92.06},{"d":"2021-06-23","v":91.77},{"d":"2021-06-27","v":91.83},{"d":"2021-06-30","v":91.89},{"d":"2021-07-01","v":92.57},{"d":"2021-07-04","v":92.42},{"d":"2021-07-07","v":92.59},{"d":"2021-07-09","v":92.14},{"d":"2021-07-12","v":92.23},{"d":"2021-07-13","v":92.74},{"d":"2021-07-15","v":92.4},{"d":"2021-07-18","v":92.76},{"d":"2021-07-19","v":92.88},{"d":"2021-07-21","v":92.96},{"d":"2021-07-23","v":92.79},{"d":"2021-07-26","v":92.88},{"d":"2021-07-28","v":92.68},{"d":"2021-07-30","v":91.91},{"d":"2021-07-31","v":92.11},{"d":"2021-08-03","v":92.08},{"d":"2021-08-05","v":92.28},{"d":"2021-08-06","v":92.79},{"d":"2021-08-09","v":92.9},{"d":"2021-08-11","v":93.02},{"d":"2021-08-13","v":92.51},{"d":"2021-08-16","v":92.59},{"d":"2021-08-18","v":92.59},{"d":"2021-08-19","v":93.13},{"d":"2021-08-20","v":93.58},{"d":"2021-08-22","v":93.47},{"d":"2021-08-24","v":92.9},{"d":"2021-08-26","v":92.85},{"d":"2021-08-27","v":93.07},{"d":"2021-08-28","v":92.71},{"d":"2021-09-01","v":92.65},{"d":"2021-09-04","v":92.06},{"d":"2021-09-07","v":92.45},{"d":"2021-09-08","v":92.59},{"d":"2021-09-11","v":92.54},{"d":"2021-09-13","v":92.62},{"d":"2021-09-16","v":92.57},{"d":"2021-09-17","v":93.16},{"d":"2021-09-22","v":93.25},{"d":"2021-09-23","v":93.44},{"d":"2021-09-24","v":93.05},{"d":"2021-09-25","v":93.3},{"d":"2021-09-28","v":93.33},{"d":"2021-09-30","v":94.32},{"d":"2021-10-02","v":93.92},{"d":"2021-10-05","v":93.78},{"d":"2021-10-07","v":94.26},{"d":"2021-10-09","v":94.09},{"d":"2021-10-11","v":94.18},{"d":"2021-10-13","v":94.49},{"d":"2021-10-14","v":93.95},{"d":"2021-10-17","v":93.92},{"d":"2021-10-20","v":93.56},{"d":"2021-10-23","v":93.64},{"d":"2021-10-25","v":93.9},{"d":"2021-10-28","v":93.36},{"d":"2021-10-30","v":93.9},{"d":"2021-11-01","v":94.05},{"d":"2021-11-04","v":94.1},{"d":"2021-11-06","v":94.35},{"d":"2021-11-08","v":94.0},
{"d":"2021-11-09","v":94.52},{"d":"2021-11-11","v":95.13},{"d":"2021-11-14","v":95.16},{"d":"2021-11-16","v":95.35},{"d":"2021-11-17","v":95.86},{"d":"2021-11-18","v":95.86},{"d":"2021-11-19","v":95.98},{"d":"2021-11-20","v":96.32},{"d":"2021-11-22","v":96.46},{"d":"2021-11-24","v":96.8},{"d":"2021-11-25","v":96.85},{"d":"2021-11-26","v":96.15},{"d":"2021-11-28","v":96.29},{"d":"2021-11-29","v":96.06},{"d":"2021-12-01","v":96.06},{"d":"2021-12-03","v":96.17},{"d":"2021-12-05","v":96.32},{"d":"2021-12-08","v":96.37},{"d":"2021-12-09","v":95.92},{"d":"2021-12-11","v":96.15},{"d":"2021-12-13","v":96.23},{"d":"2021-12-14","v":96.49},{"d":"2021-12-16","v":96.06},{"d":"2021-12-17","v":96.51},{"d":"2021-12-19","v":96.06},{"d":"2021-12-20","v":96.51},{"d":"2021-12-21","v":96.46},{"d":"2021-12-23","v":96.0},{"d":"2021-12-26","v":96.03},{"d":"2021-12-28","v":96.17},{"d":"2021-12-30","v":95.98},{"d":"2021-12-31","v":95.61},{"d":"2022-01-02","v":95.86},{"d":"2022-01-04","v":96.23},{"d":"2022-01-07","v":96.32},{"d":"2022-01-08","v":95.72},{"d":"2022-01-10","v":95.89},{"d":"2022-01-12","v":95.69},{"d":"2022-01-14","v":94.79},{"d":"2022-01-15","v":94.84},{"d":"2022-01-17","v":95.24},{"d":"2022-01-18","v":95.47},{"d":"2022-01-20","v":95.52},{"d":"2022-01-22","v":95.72},{"d":"2022-01-24","v":95.78},{"d":"2022-01-26","v":95.98},{"d":"2022-01-28","v":97.22},{"d":"2022-01-29","v":97.25},{"d":"2022-02-01","v":96.54},{"d":"2022-02-03","v":95.41},{"d":"2022-02-05","v":95.41},{"d":"2022-02-07","v":95.47},{"d":"2022-02-08","v":95.38},{"d":"2022-02-09","v":95.58},{"d":"2022-02-11","v":95.64},{"d":"2022-02-12","v":96.09},{"d":"2022-02-14","v":96.34},{"d":"2022-02-16","v":95.98},{"d":"2022-02-17","v":95.72},{"d":"2022-02-19","v":96.03},{"d":"2022-02-21","v":96.03},{"d":"2022-02-23","v":96.03},{"d":"2022-02-25","v":97.05},{"d":"2022-02-26","v":96.82},{"d":"2022-02-28","v":96.66},{"d":"2022-03-01","v":97.33},{"d":"2022-03-03","v":97.42},{"d":"2022-03-04","v":98.69},{"d":"2022-03-06","v":98.86},{"d":"2022-03-08","v":99.26},{"d":"2022-03-09","v":98.86},{"d":"2022-03-10","v":97.96},{"d":"2022-03-11","v":99.03},{"d":"2022-03-12","v":98.92},{"d":"2022-03-13","v":98.98},{"d":"2022-03-15","v":99.0},{"d":"2022-03-16","v":98.47},{"d":"2022-03-18","v":97.99},{"d":"2022-03-20","v":98.3},{"d":"2022-03-22","v":98.41},{"d":"2022-03-23","v":98.52},{"d":"2022-03-24","v":98.81},{"d":"2022-03-27","v":98.92},{"d":"2022-03-29","v":99.03},{"d":"2022-03-31","v":97.9},{"d":"2022-04-01","v":98.41},{"d":"2022-04-03","v":98.64},{"d":"2022-04-05","v":98.86},{"d":"2022-04-06","v":99.43},{"d":"2022-04-07","v":99.71},{"d":"2022-04-10","v":99.8},{"d":"2022-04-12","v":99.88},{"d":"2022-04-13","v":100.22},{"d":"2022-04-15","v":100.31},{"d":"2022-04-16","v":100.53},{"d":"2022-04-18","v":100.76},{"d":"2022-04-19","v":100.93},{"d":"2022-04-20","v":100.56},{"d":"2022-04-21","v":100.9},{"d":"2022-04-23","v":100.56},{"d":"2022-04-24","v":100.9}
]
},
"layer":[
{"data":{"name":"wti"},
 "mark":{"type":"line","strokeWidth":8.5,"clip":true,"strokeJoin":"round","strokeCap":"round"},
 "encoding":{
  "x":{"field":"d","type":"temporal","scale":{"type":"utc","domain":[{"year":2019,"month":5,"date":16,"utc":true},{"year":2022,"month":4,"date":24,"utc":true}]},
   "axis":{"title":null,"grid":false,"format":"%d-%b","values":[{"year":2019,"month":5,"date":16,"utc":true},{"year":2019,"month":7,"date":16,"utc":true},{"year":2019,"month":9,"date":16,"utc":true},{"year":2019,"month":11,"date":16,"utc":true},{"year":2020,"month":1,"date":16,"utc":true},{"year":2020,"month":3,"date":16,"utc":true},{"year":2020,"month":5,"date":16,"utc":true},{"year":2020,"month":7,"date":16,"utc":true},{"year":2020,"month":9,"date":16,"utc":true},{"year":2020,"month":11,"date":16,"utc":true},{"year":2021,"month":1,"date":16,"utc":true},{"year":2021,"month":3,"date":16,"utc":true},{"year":2021,"month":5,"date":16,"utc":true},{"year":2021,"month":7,"date":16,"utc":true},{"year":2021,"month":9,"date":16,"utc":true},{"year":2021,"month":11,"date":16,"utc":true},{"year":2022,"month":1,"date":16,"utc":true},{"year":2022,"month":3,"date":16,"utc":true}],
   "labelFont":"Open Sans","labelFontSize":46,"labelColor":"#595959","labelPadding":29,"labelAngle":0,"labelOverlap":false,"labelFlush":false,
   "ticks":true,"tickSize":17,"tickColor":"#D9D9D9","tickWidth":3,"domain":true,"domainColor":"#D9D9D9","domainWidth":3}},
  "y":{"field":"v","type":"quantitative","scale":{"domain":[10,130],"nice":false,"zero":false},
   "axis":{"title":null,"values":[10,30,50,70,90,110,130],"format":"$.0f","grid":true,"gridColor":"#D9D9D9","gridWidth":3,"domain":false,"ticks":false,"tickSize":0,"labelPadding":62,"labelFont":"Open Sans","labelFontSize":60,"labelColor":"#595959"}},
  "color":{"datum":"WTI","type":"nominal","scale":{"domain":["WTI","USD Index"],"range":["#5B9BD5","#ED7D31"]},
   "legend":{"orient":"none","legendX":1866,"legendY":112,"direction":"horizontal","title":null,"symbolType":"stroke","symbolSize":12100,"symbolStrokeWidth":8.5,"labelFont":"Open Sans","labelFontSize":76,"labelColor":"#595959","labelOffset":10,"columnPadding":148,"labelLimit":0}}
 }},
{"data":{"name":"usd"},
 "mark":{"type":"line","strokeWidth":8.5,"clip":true,"strokeJoin":"round","strokeCap":"round"},
 "encoding":{
  "x":{"field":"d","type":"temporal"},
  "y":{"field":"v","type":"quantitative","scale":{"domain":[88,104],"nice":false,"zero":false},
   "axis":{"title":null,"orient":"right","values":[88,90,92,94,96,98,100,102,104],"grid":false,"domain":false,"ticks":false,"tickSize":0,"labelPadding":46,"labelFont":"Open Sans","labelFontSize":48,"labelColor":"#595959"}},
  "color":{"datum":"USD Index","type":"nominal"}
 }}
],
"resolve":{"scale":{"y":"independent"}},
"config":{"view":{"stroke":null}}
}
